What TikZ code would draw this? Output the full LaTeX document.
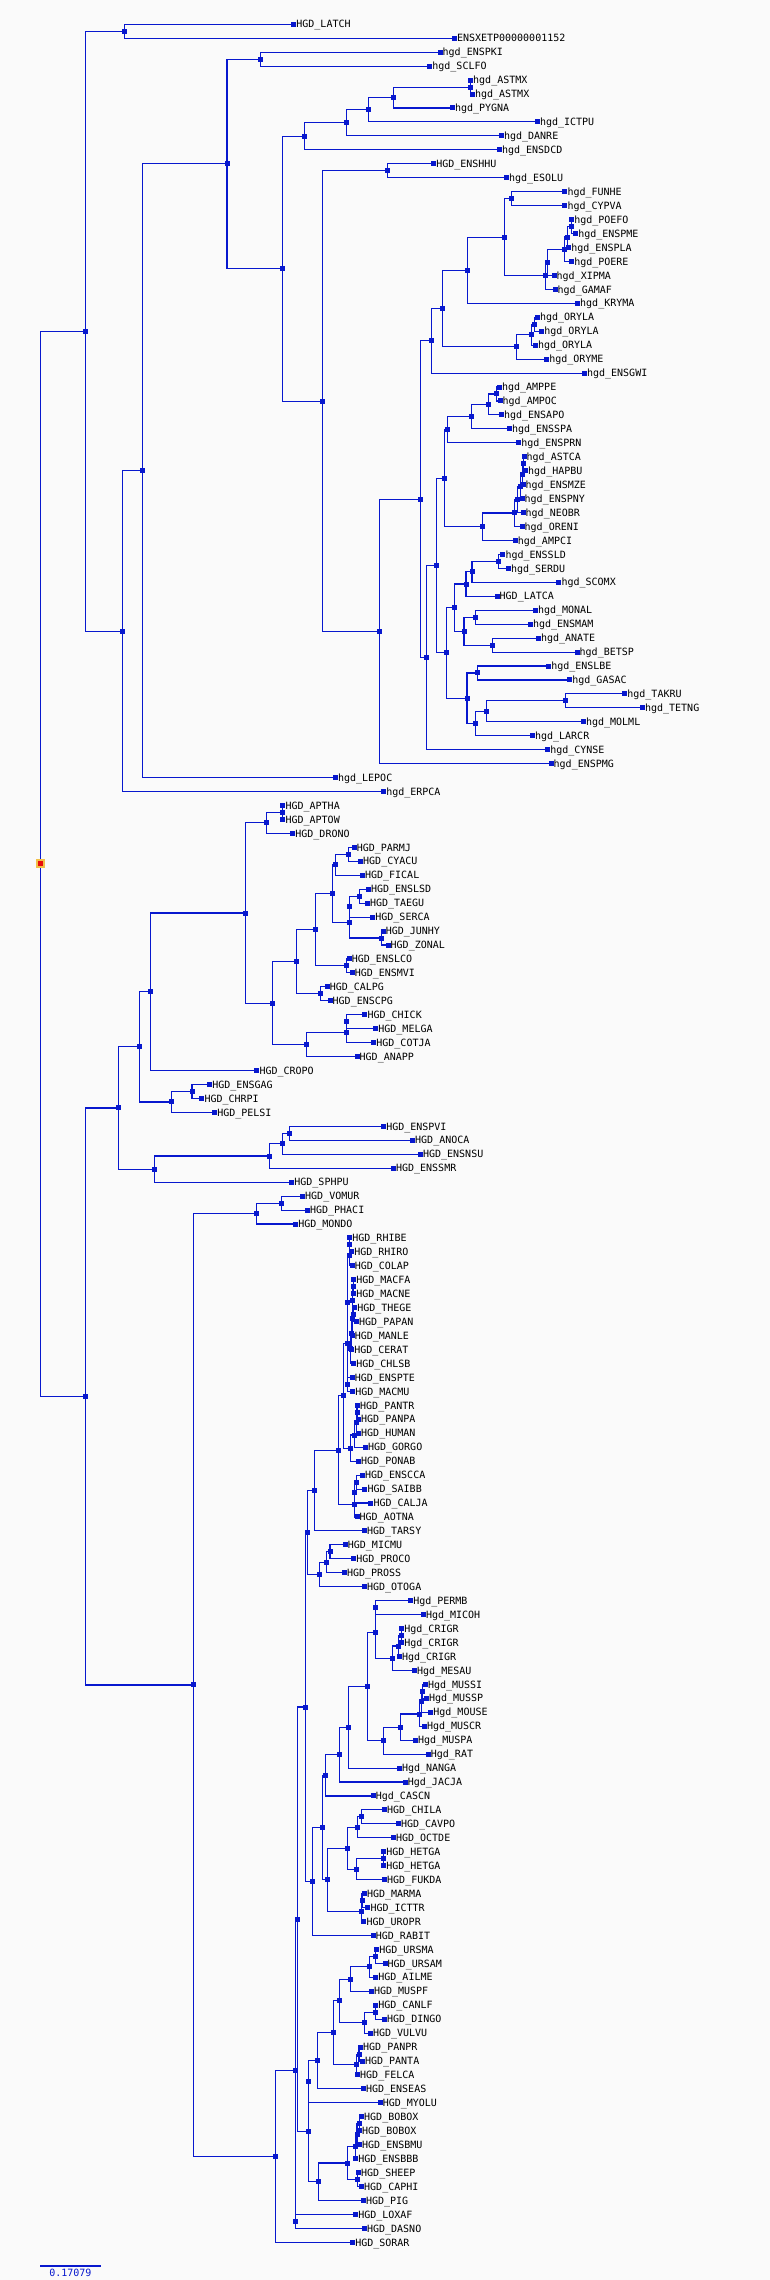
\documentclass[tikz,border=0pt]{standalone}
\usepackage{fontspec}
\setmonofont{DejaVu Sans Mono}
\usetikzlibrary{calc}
\definecolor{treeblue}{RGB}{8,24,206}
\definecolor{paper}{RGB}{250,250,250}
\definecolor{rootred}{RGB}{232,12,12}
\definecolor{rootrim}{RGB}{242,192,72}
\tikzset{
  branch/.style={draw=treeblue, line width=1.1pt},
  tip/.style={fill=treeblue, minimum size=5pt, inner sep=0pt, outer sep=0pt, label distance=3.2pt},
  fork/.style={fill=treeblue, minimum size=5pt, inner sep=0pt, outer sep=0pt},
  tiplabel/.style={font=\ttfamily\fontsize{10}{10}\selectfont, inner sep=0pt, text height=7.3pt, text depth=0pt}
}
% a leaf: name, row, x, text
\def\leaf#1#2#3#4{\node[tip, label={[tiplabel]right:#4}] (#1) at (#3,{10.35+13.95*#2}) {};}
% a fork: name, x, upper child, lower child
\def\clade#1#2#3#4{%
  \coordinate (#1m) at ($(#3)!.5!(#4)$);
  \node[fork] (#1) at (#2,0 |- #1m) {};
  \draw[branch] (#1.center) |- (#3.center);
  \draw[branch] (#1.center) |- (#4.center);}

\begin{document}
\begin{tikzpicture}[x=1pt, y=-1pt]
\fill[paper] (0,0) rectangle (770,2280);
\useasboundingbox (0,0) rectangle (770,2280);

% leaves
\leaf{l1}{1}{293.7}{HGD\_LATCH}
\leaf{l2}{2}{454.3}{ENSXETP00000001152}
\leaf{l3}{3}{440.0}{hgd\_ENSPKI}
\leaf{l4}{4}{429.7}{hgd\_SCLFO}
\leaf{l5}{5}{470.5}{hgd\_ASTMX}
\leaf{l6}{6}{472.4}{hgd\_ASTMX}
\leaf{l7}{7}{452.3}{hgd\_PYGNA}
\leaf{l8}{8}{537.3}{hgd\_ICTPU}
\leaf{l9}{9}{501.4}{hgd\_DANRE}
\leaf{l10}{10}{499.4}{hgd\_ENSDCD}
\leaf{l11}{11}{433.6}{HGD\_ENSHHU}
\leaf{l12}{12}{506.3}{hgd\_ESOLU}
\leaf{l13}{13}{564.8}{hgd\_FUNHE}
\leaf{l14}{14}{564.8}{hgd\_CYPVA}
\leaf{l15}{15}{571.6}{hgd\_POEFO}
\leaf{l16}{16}{575.6}{hgd\_ENSPME}
\leaf{l17}{17}{568.7}{hgd\_ENSPLA}
\leaf{l18}{18}{571.6}{hgd\_POERE}
\leaf{l19}{19}{554.0}{hgd\_XIPMA}
\leaf{l20}{20}{555.0}{hgd\_GAMAF}
\leaf{l21}{21}{577.5}{hgd\_KRYMA}
\leaf{l22}{22}{537.3}{hgd\_ORYLA}
\leaf{l23}{23}{541.7}{hgd\_ORYLA}
\leaf{l24}{24}{535.3}{hgd\_ORYLA}
\leaf{l25}{25}{546.6}{hgd\_ORYME}
\leaf{l26}{26}{584.4}{hgd\_ENSGWI}
\leaf{l27}{27}{499.4}{hgd\_AMPPE}
\leaf{l28}{28}{500.0}{hgd\_AMPOC}
\leaf{l29}{29}{501.4}{hgd\_ENSAPO}
\leaf{l30}{30}{509.3}{hgd\_ENSSPA}
\leaf{l31}{31}{518.6}{hgd\_ENSPRN}
\leaf{l32}{32}{524.0}{hgd\_ASTCA}
\leaf{l33}{33}{525.5}{hgd\_HAPBU}
\leaf{l34}{34}{523.0}{hgd\_ENSMZE}
\leaf{l35}{35}{522.0}{hgd\_ENSPNY}
\leaf{l36}{36}{523.0}{hgd\_NEOBR}
\leaf{l37}{37}{522.0}{hgd\_ORENI}
\leaf{l38}{38}{515.2}{hgd\_AMPCI}
\leaf{l39}{39}{502.9}{hgd\_ENSSLD}
\leaf{l40}{40}{508.3}{hgd\_SERDU}
\leaf{l41}{41}{558.9}{hgd\_SCOMX}
\leaf{l42}{42}{497.0}{HGD\_LATCA}
\leaf{l43}{43}{535.3}{hgd\_MONAL}
\leaf{l44}{44}{530.4}{hgd\_ENSMAM}
\leaf{l45}{45}{538.3}{hgd\_ANATE}
\leaf{l46}{46}{577.0}{hgd\_BETSP}
\leaf{l47}{47}{548.6}{hgd\_ENSLBE}
\leaf{l48}{48}{569.7}{hgd\_GASAC}
\leaf{l49}{49}{624.7}{hgd\_TAKRU}
\leaf{l50}{50}{642.4}{hgd\_TETNG}
\leaf{l51}{51}{583.4}{hgd\_MOLML}
\leaf{l52}{52}{532.4}{hgd\_LARCR}
\leaf{l53}{53}{547.6}{hgd\_CYNSE}
\leaf{l54}{54}{551.0}{hgd\_ENSPMG}
\leaf{l55}{55}{335.4}{hgd\_LEPOC}
\leaf{l56}{56}{383.6}{hgd\_ERPCA}
\leaf{l57}{57}{282.9}{HGD\_APTHA}
\leaf{l58}{58}{282.9}{HGD\_APTOW}
\leaf{l59}{59}{292.7}{HGD\_DRONO}
\leaf{l60}{60}{354.1}{HGD\_PARMJ}
\leaf{l61}{61}{360.5}{HGD\_CYACU}
\leaf{l62}{62}{362.4}{HGD\_FICAL}
\leaf{l63}{63}{368.3}{HGD\_ENSLSD}
\leaf{l64}{64}{367.3}{HGD\_TAEGU}
\leaf{l65}{65}{372.7}{HGD\_SERCA}
\leaf{l66}{66}{383.1}{HGD\_JUNHY}
\leaf{l67}{67}{388.0}{HGD\_ZONAL}
\leaf{l68}{68}{349.2}{HGD\_ENSLCO}
\leaf{l69}{69}{352.1}{HGD\_ENSMVI}
\leaf{l70}{70}{327.1}{HGD\_CALPG}
\leaf{l71}{71}{330.0}{HGD\_ENSCPG}
\leaf{l72}{72}{364.9}{HGD\_CHICK}
\leaf{l73}{73}{375.7}{HGD\_MELGA}
\leaf{l74}{74}{373.7}{HGD\_COTJA}
\leaf{l75}{75}{357.0}{HGD\_ANAPP}
\leaf{l76}{76}{256.8}{HGD\_CROPO}
\leaf{l77}{77}{209.7}{HGD\_ENSGAG}
\leaf{l78}{78}{201.8}{HGD\_CHRPI}
\leaf{l79}{79}{214.6}{HGD\_PELSI}
\leaf{l80}{80}{383.6}{HGD\_ENSPVI}
\leaf{l81}{81}{412.5}{HGD\_ANOCA}
\leaf{l82}{82}{420.4}{HGD\_ENSNSU}
\leaf{l83}{83}{393.4}{HGD\_ENSSMR}
\leaf{l84}{84}{291.7}{HGD\_SPHPU}
\leaf{l85}{85}{302.5}{HGD\_VOMUR}
\leaf{l86}{86}{307.4}{HGD\_PHACI}
\leaf{l87}{87}{295.6}{HGD\_MONDO}
\leaf{l88}{88}{349.7}{HGD\_RHIBE}
\leaf{l89}{89}{351.6}{HGD\_RHIRO}
\leaf{l90}{90}{352.1}{HGD\_COLAP}
\leaf{l91}{91}{353.6}{HGD\_MACFA}
\leaf{l92}{92}{353.6}{HGD\_MACNE}
\leaf{l93}{93}{354.6}{HGD\_THEGE}
\leaf{l94}{94}{356.5}{HGD\_PAPAN}
\leaf{l95}{95}{352.1}{HGD\_MANLE}
\leaf{l96}{96}{351.6}{HGD\_CERAT}
\leaf{l97}{97}{353.6}{HGD\_CHLSB}
\leaf{l98}{98}{352.1}{HGD\_ENSPTE}
\leaf{l99}{99}{352.6}{HGD\_MACMU}
\leaf{l100}{100}{357.5}{HGD\_PANTR}
\leaf{l101}{101}{358.5}{HGD\_PANPA}
\leaf{l102}{102}{358.5}{HGD\_HUMAN}
\leaf{l103}{103}{365.4}{HGD\_GORGO}
\leaf{l104}{104}{358.5}{HGD\_PONAB}
\leaf{l105}{105}{362.4}{HGD\_ENSCCA}
\leaf{l106}{106}{364.9}{HGD\_SAIBB}
\leaf{l107}{107}{370.8}{HGD\_CALJA}
\leaf{l108}{108}{357.0}{HGD\_AOTNA}
\leaf{l109}{109}{364.4}{HGD\_TARSY}
\leaf{l110}{110}{345.2}{HGD\_MICMU}
\leaf{l111}{111}{353.6}{HGD\_PROCO}
\leaf{l112}{112}{344.3}{HGD\_PROSS}
\leaf{l113}{113}{364.4}{HGD\_OTOGA}
\leaf{l114}{114}{410.6}{Hgd\_PERMB}
\leaf{l115}{115}{423.3}{Hgd\_MICOH}
\leaf{l116}{116}{401.7}{Hgd\_CRIGR}
\leaf{l117}{117}{401.7}{Hgd\_CRIGR}
\leaf{l118}{118}{399.3}{Hgd\_CRIGR}
\leaf{l119}{119}{414.5}{Hgd\_MESAU}
\leaf{l120}{120}{425.3}{Hgd\_MUSSI}
\leaf{l121}{121}{426.3}{Hgd\_MUSSP}
\leaf{l122}{122}{430.7}{Hgd\_MOUSE}
\leaf{l123}{123}{424.3}{Hgd\_MUSCR}
\leaf{l124}{124}{415.5}{Hgd\_MUSPA}
\leaf{l125}{125}{428.2}{Hgd\_RAT}
\leaf{l126}{126}{399.3}{Hgd\_NANGA}
\leaf{l127}{127}{405.2}{Hgd\_JACJA}
\leaf{l128}{128}{373.2}{Hgd\_CASCN}
\leaf{l129}{129}{384.5}{HGD\_CHILA}
\leaf{l130}{130}{398.3}{HGD\_CAVPO}
\leaf{l131}{131}{393.4}{HGD\_OCTDE}
\leaf{l132}{132}{383.6}{HGD\_HETGA}
\leaf{l133}{133}{383.6}{HGD\_HETGA}
\leaf{l134}{134}{384.5}{HGD\_FUKDA}
\leaf{l135}{135}{364.4}{HGD\_MARMA}
\leaf{l136}{136}{367.8}{HGD\_ICTTR}
\leaf{l137}{137}{363.9}{HGD\_UROPR}
\leaf{l138}{138}{373.2}{HGD\_RABIT}
\leaf{l139}{139}{376.7}{HGD\_URSMA}
\leaf{l140}{140}{385.0}{HGD\_URSAM}
\leaf{l141}{141}{375.7}{HGD\_AILME}
\leaf{l142}{142}{371.3}{HGD\_MUSPF}
\leaf{l143}{143}{375.7}{HGD\_CANLF}
\leaf{l144}{144}{384.5}{HGD\_DINGO}
\leaf{l145}{145}{370.3}{HGD\_VULVU}
\leaf{l146}{146}{360.5}{HGD\_PANPR}
\leaf{l147}{147}{362.4}{HGD\_PANTA}
\leaf{l148}{148}{357.5}{HGD\_FELCA}
\leaf{l149}{149}{363.4}{HGD\_ENSEAS}
\leaf{l150}{150}{380.1}{HGD\_MYOLU}
\leaf{l151}{151}{361.5}{HGD\_BOBOX}
\leaf{l152}{152}{359.5}{HGD\_BOBOX}
\leaf{l153}{153}{359.5}{HGD\_ENSBMU}
\leaf{l154}{154}{355.6}{HGD\_ENSBBB}
\leaf{l155}{155}{358.5}{HGD\_SHEEP}
\leaf{l156}{156}{361.5}{HGD\_CAPHI}
\leaf{l157}{157}{363.4}{HGD\_PIG}
\leaf{l158}{158}{355.6}{HGD\_LOXAF}
\leaf{l159}{159}{364.4}{HGD\_DASNO}
\leaf{l160}{160}{352.6}{HGD\_SORAR}

% fish, frog and coelacanth
\clade{n1}{124.3}{l1}{l2}
\clade{nPK}{260.3}{l3}{l4}
\clade{nAS}{470.5}{l5}{l6}
\clade{nF3}{393.4}{nAS}{l7}
\clade{nF2}{368.3}{nF3}{l8}
\clade{nF1}{346.7}{nF2}{l9}
\clade{nF}{304.5}{nF1}{l10}
\clade{nG1}{387.5}{l11}{l12}
\clade{nFC}{511.8}{l13}{l14}
\clade{nI10}{571.2}{l15}{l16}
\clade{nI9}{567.2}{nI10}{l17}
\clade{nI8}{564.3}{nI9}{l18}
\clade{nI7}{547.6}{nI8}{l19}
\clade{nI6}{545.6}{nI7}{l20}
\clade{nI5}{504.4}{nFC}{nI6}
\clade{nI3}{467.5}{nI5}{l21}
\clade{nI12}{534.4}{l22}{l23}
\clade{nI11}{531.9}{nI12}{l24}
\clade{nI4}{516.6}{nI11}{l25}
\clade{nI2}{442.5}{nI3}{nI4}
\clade{nI1}{431.2}{nI2}{l26}
\clade{nJ8}{496.5}{l27}{l28}
\clade{nJ7}{488.7}{nJ8}{l29}
\clade{nJ6}{471.5}{nJ7}{l30}
\clade{nJ4}{447.9}{nJ6}{l31}
\clade{nC1}{523.6}{l32}{l33}
\clade{nC2}{522.8}{nC1}{l34}
\clade{nC3}{520.3}{nC2}{l35}
\clade{nJ10}{517.6}{nC3}{l36}
\clade{nJ9}{514.2}{nJ10}{l37}
\clade{nJ5}{482.3}{nJ9}{l38}
\clade{nJ2}{444.5}{nJ4}{nJ5}
\clade{nJ18}{498.5}{l39}{l40}
\clade{nJ17}{472.0}{nJ18}{l41}
\clade{nJ15}{466.0}{nJ17}{l42}
\clade{nJ19}{475.9}{l43}{l44}
\clade{nJ20}{492.6}{l45}{l46}
\clade{nJ16}{464.0}{nJ19}{nJ20}
\clade{nJ13}{454.3}{nJ15}{nJ16}
\clade{nJ21}{477.4}{l47}{l48}
\clade{nJ24}{565.3}{l49}{l50}
\clade{nJ23}{486.7}{nJ24}{l51}
\clade{nJ22}{475.9}{nJ23}{l52}
\clade{nJ14}{467.0}{nJ21}{nJ22}
\clade{nJ3}{446.9}{nJ13}{nJ14}
\clade{nJ1}{436.6}{nJ2}{nJ3}
\clade{nJ}{426.3}{nJ1}{l53}
\clade{nI}{420.9}{nI1}{nJ}
\clade{nH}{379.6}{nI}{l54}
\clade{nG}{322.2}{nG1}{nH}
\clade{nE}{282.4}{nF}{nG}
\clade{nD}{227.0}{nPK}{nE}
\clade{nC}{142.4}{nD}{l55}
\clade{nB}{122.3}{nC}{l56}
\clade{nA}{85.5}{n1}{nB}

% birds and reptiles
\clade{nAPT}{282.9}{l57}{l58}
\clade{nR1}{266.2}{nAPT}{l59}
\clade{nR11}{348.7}{l60}{l61}
\clade{nR9}{335.4}{nR11}{l62}
\clade{nR14}{359.5}{l63}{l64}
\clade{nR12}{349.7}{nR14}{l65}
\clade{nR13}{381.6}{l66}{l67}
\clade{nR10}{349.2}{nR12}{nR13}
\clade{nR7}{332.5}{nR9}{nR10}
\clade{nR8}{346.7}{l68}{l69}
\clade{nR5}{315.3}{nR7}{nR8}
\clade{nR6}{320.7}{l70}{l71}
\clade{nR3}{296.6}{nR5}{nR6}
\clade{nR16}{346.7}{l72}{l73}
\clade{nR15}{346.7}{nR16}{l74}
\clade{nR4}{306.4}{nR15}{l75}
\clade{nR2}{272.6}{nR3}{nR4}
\clade{nR}{245.6}{nR1}{nR2}
\clade{nP}{150.3}{nR}{l76}
\clade{nQ1}{192.0}{l77}{l78}
\clade{nQ}{171.4}{nQ1}{l79}
\clade{nN}{139.5}{nP}{nQ}
\clade{nO3}{289.8}{l80}{l81}
\clade{nO2}{282.4}{nO3}{l82}
\clade{nO1}{269.6}{nO2}{l83}
\clade{nO}{154.7}{nO1}{l84}
\clade{nL}{118.8}{nN}{nO}

% mammals
\clade{nM3}{281.4}{l85}{l86}
\clade{nM1}{256.4}{nM3}{l87}
\clade{nCo1}{349.7}{l88}{l89}
\clade{nCo}{349.2}{nCo1}{l90}
\clade{nMa1}{353.6}{l91}{l92}
\clade{nMa2}{353.6}{l93}{l94}
\clade{nMa3}{352.1}{nMa1}{nMa2}
\clade{nMa4}{352.6}{nMa3}{l95}
\clade{nMa5}{351.1}{nMa4}{l96}
\clade{nMa6}{350.7}{nMa5}{l97}
\clade{nOW1}{347.7}{nCo}{nMa6}
\clade{nOW2}{347.7}{l98}{l99}
\clade{nOW}{347.7}{nOW1}{nOW2}
\clade{nAp1}{357.0}{l100}{l101}
\clade{nAp2}{356.5}{nAp1}{l102}
\clade{nAp3}{354.6}{nAp2}{l103}
\clade{nAp}{350.2}{nAp3}{l104}
\clade{nM14}{343.3}{nOW}{nAp}
\clade{nNw1}{356.5}{l105}{l106}
\clade{nNw2}{354.6}{nNw1}{l107}
\clade{nNw}{354.6}{nNw2}{l108}
\clade{nM13}{338.9}{nM14}{nNw}
\clade{nM11}{314.3}{nM13}{l109}
\clade{nM18}{330.0}{l110}{l111}
\clade{nM17}{326.6}{nM18}{l112}
\clade{nM12}{319.7}{nM17}{l113}
\clade{nM9}{307.9}{nM11}{nM12}
\clade{nM27}{375.7}{l114}{l115}
\clade{nCr1}{401.2}{l116}{l117}
\clade{nCr}{398.3}{nCr1}{l118}
\clade{nM28}{392.4}{nCr}{l119}
\clade{nM25}{375.7}{nM27}{nM28}
\clade{nMu1}{422.8}{l120}{l121}
\clade{nMu2}{421.9}{nMu1}{l122}
\clade{nM30}{419.9}{nMu2}{l123}
\clade{nM29}{400.3}{nM30}{l124}
\clade{nM26}{383.6}{nM29}{l125}
\clade{nM24}{367.3}{nM25}{nM26}
\clade{nM23}{348.7}{nM24}{l126}
\clade{nM22}{339.3}{nM23}{l127}
\clade{nM20}{325.1}{nM22}{l128}
\clade{nM36}{361.5}{l129}{l130}
\clade{nM34}{357.5}{nM36}{l131}
\clade{nHe}{383.6}{l132}{l133}
\clade{nM35}{356.5}{nHe}{l134}
\clade{nM32}{347.7}{nM34}{nM35}
\clade{nSq}{362.0}{l135}{l136}
\clade{nM33}{361.5}{nSq}{l137}
\clade{nM21}{327.6}{nM32}{nM33}
\clade{nM19}{322.7}{nM20}{nM21}
\clade{nM10}{312.3}{nM19}{l138}
\clade{nM7}{305.5}{nM9}{nM10}
\clade{nUr1}{375.7}{l139}{l140}
\clade{nM44}{369.3}{nUr1}{l141}
\clade{nM42}{350.7}{nM44}{l142}
\clade{nCa1}{375.7}{l143}{l144}
\clade{nM43}{364.9}{nCa1}{l145}
\clade{nM41}{339.8}{nM42}{nM43}
\clade{nFe1}{359.0}{l146}{l147}
\clade{nFe}{356.5}{nFe1}{l148}
\clade{nM40}{333.5}{nM41}{nFe}
\clade{nM37}{317.3}{nM40}{l149}
\clade{nM39}{308.4}{nM37}{l150}
\clade{nBo1}{359.5}{l151}{l152}
\clade{nBo2}{357.0}{nBo1}{l153}
\clade{nBo}{355.6}{nBo2}{l154}
\clade{nSh}{357.5}{l155}{l156}
\clade{nM45}{347.7}{nBo}{nSh}
\clade{nM38}{318.3}{nM45}{l157}
\clade{nM8}{308.4}{nM39}{nM38}
\clade{nM5}{297.1}{nM7}{nM8}
\clade{nM6}{295.6}{l158}{l159}
\clade{nM4}{295.2}{nM5}{nM6}
\clade{nM2}{275.5}{nM4}{l160}
\clade{nM}{193.5}{nM1}{nM2}
\clade{nK}{85.5}{nL}{nM}

% root
\clade{root}{40.3}{nA}{nK}
\node[fill=rootred, draw=rootrim, line width=2pt, minimum size=7pt, inner sep=0pt] (rootmark) at (root) {};

% scale bar
\coordinate (bar0) at (40,2265.7);
\coordinate (bar1) at (100.7,2265.7);
\draw[branch, line width=2pt] (bar0) -- node[below=2.8pt, tiplabel, text=treeblue] (barlabel) {0.17079} (bar1);
\end{tikzpicture}
\end{document}
